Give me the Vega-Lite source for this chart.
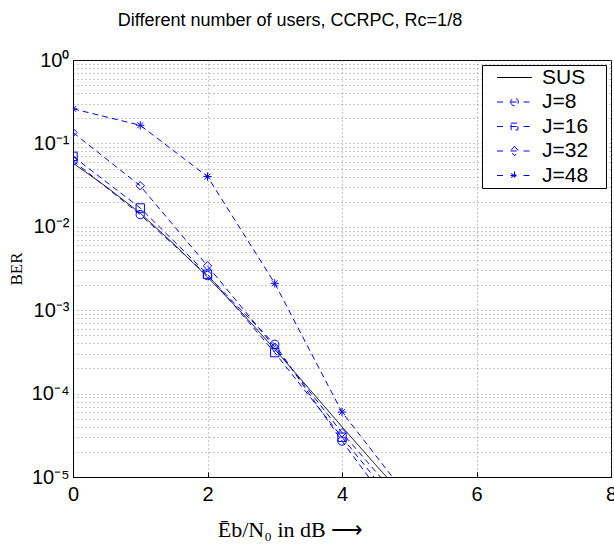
{
  "$schema": "https://vega.github.io/schema/vega-lite/v6.json",
  "width": 538,
  "height": 417,
  "autosize": {"type": "none"},
  "padding": {"left": 73, "top": 60, "right": 3, "bottom": 77},
  "background": "white",
  "title": {
    "text": "Different number of users, CCRPC, Rc=1/8",
    "font": "Liberation Sans",
    "fontSize": 18,
    "fontWeight": "normal",
    "color": "black",
    "anchor": "middle",
    "dx": -52,
    "offset": 20
  },
  "data": {
    "values": [
      {"snr": 0, "ber": 0.058, "series": "SUS"},
      {"snr": 0.5, "ber": 0.030, "series": "SUS"},
      {"snr": 1, "ber": 0.0146, "series": "SUS"},
      {"snr": 1.5, "ber": 0.0062, "series": "SUS"},
      {"snr": 2, "ber": 0.0025, "series": "SUS"},
      {"snr": 2.5, "ber": 0.00095, "series": "SUS"},
      {"snr": 3, "ber": 0.00034, "series": "SUS"},
      {"snr": 3.5, "ber": 0.000117, "series": "SUS"},
      {"snr": 4, "ber": 0.00004, "series": "SUS"},
      {"snr": 4.5, "ber": 0.000014, "series": "SUS"},
      {"snr": 5, "ber": 0.000005, "series": "SUS"},
      {"snr": 0, "ber": 0.062, "series": "J=8"},
      {"snr": 1, "ber": 0.0140, "series": "J=8"},
      {"snr": 2, "ber": 0.0026, "series": "J=8"},
      {"snr": 3, "ber": 0.00039, "series": "J=8"},
      {"snr": 4, "ber": 0.000027, "series": "J=8"},
      {"snr": 5, "ber": 0.0000022, "series": "J=8"},
      {"snr": 0, "ber": 0.070, "series": "J=16"},
      {"snr": 1, "ber": 0.0168, "series": "J=16"},
      {"snr": 2, "ber": 0.0027, "series": "J=16"},
      {"snr": 3, "ber": 0.00031, "series": "J=16"},
      {"snr": 4, "ber": 0.000030, "series": "J=16"},
      {"snr": 5, "ber": 0.000003, "series": "J=16"},
      {"snr": 0, "ber": 0.135, "series": "J=32"},
      {"snr": 1, "ber": 0.031, "series": "J=32"},
      {"snr": 2, "ber": 0.0034, "series": "J=32"},
      {"snr": 3, "ber": 0.00036, "series": "J=32"},
      {"snr": 4, "ber": 0.000034, "series": "J=32"},
      {"snr": 5, "ber": 0.000004, "series": "J=32"},
      {"snr": 0, "ber": 0.26, "series": "J=48"},
      {"snr": 1, "ber": 0.165, "series": "J=48"},
      {"snr": 2, "ber": 0.040, "series": "J=48"},
      {"snr": 3, "ber": 0.0021, "series": "J=48"},
      {"snr": 4, "ber": 0.00006, "series": "J=48"},
      {"snr": 5, "ber": 0.0000055, "series": "J=48"}
    ]
  },
  "encoding": {
    "x": {
      "field": "snr",
      "type": "quantitative",
      "scale": {"domain": [0, 8], "nice": false, "zero": false},
      "axis": {
        "values": [0, 2, 4, 6, 8],
        "title": "Ēb/N₀ in dB ⟶",
        "titleFont": "Liberation Serif",
        "titleFontSize": 22,
        "titleFontWeight": "normal",
        "titleColor": "black",
        "titleX": 217,
        "titleY": 42,
        "titleAlign": "center",
        "titleBaseline": "top",
        "labelFont": "Liberation Sans",
        "labelFontSize": 20,
        "labelColor": "black",
        "labelPadding": 12,
        "labelFlush": false,
        "labelOverlap": false,
        "domainColor": "black",
        "tickColor": "black",
        "tickSize": -5,
        "grid": true,
        "gridColor": "#666666",
        "gridDash": [1, 3],
        "gridWidth": 0.7
      }
    },
    "y": {
      "field": "ber",
      "type": "quantitative",
      "scale": {"type": "log", "domain": [0.00001, 1], "nice": false},
      "axis": {
        "values": [0.00001, 0.00002, 0.00003, 0.00004, 0.00005, 0.00006, 0.00007, 0.00008, 0.00009,
                   0.0001, 0.0002, 0.0003, 0.0004, 0.0005, 0.0006, 0.0007, 0.0008, 0.0009,
                   0.001, 0.002, 0.003, 0.004, 0.005, 0.006, 0.007, 0.008, 0.009,
                   0.01, 0.02, 0.03, 0.04, 0.05, 0.06, 0.07, 0.08, 0.09,
                   0.1, 0.2, 0.3, 0.4, 0.5, 0.6, 0.7, 0.8, 0.9, 1],
        "labelExpr": "abs(log(datum.value)/LN10 - round(log(datum.value)/LN10)) < 0.000001 ? ['10⁰','10⁻¹','10⁻²','10⁻³','10⁻⁴','10⁻⁵'][-round(log(datum.value)/LN10)] : ''",
        "title": "BER",
        "titleFont": "Liberation Serif",
        "titleFontSize": 17,
        "titleFontWeight": "normal",
        "titleColor": "black",
        "titlePadding": 6,
        "labelFont": "Liberation Sans",
        "labelFontSize": 20,
        "labelColor": "black",
        "labelPadding": 4,
        "labelOverlap": false,
        "labelFlush": false,
        "domainColor": "black",
        "ticks": false,
        "grid": true,
        "gridColor": "#666666",
        "gridDash": [1, 3],
        "gridWidth": 0.7
      }
    }
  },
  "layer": [
    {
      "mark": {"type": "line", "clip": true, "strokeWidth": 1},
      "encoding": {
        "color": {
          "field": "series",
          "type": "nominal",
          "sort": ["SUS", "J=8", "J=16", "J=32", "J=48"],
          "scale": {
            "domain": ["SUS", "J=8", "J=16", "J=32", "J=48"],
            "range": ["#000000", "#0000ff", "#0000ff", "#0000ff", "#0000ff"]
          },
          "legend": {
            "title": null,
            "orient": "top-right",
            "offset": 5,
            "padding": 2,
            "strokeColor": "black",
            "fillColor": "white",
            "labelFont": "Liberation Sans",
            "labelFontSize": 21,
            "labelColor": "black",
            "labelOffset": 17,
            "labelExpr": "datum.label + '\u2800'",
            "symbolOffset": 20,
            "symbolSize": 400,
            "rowPadding": 2.5,
            "encode": {
              "symbols": {
                "update": {
                  "shape": {"signal": "datum.value === 'SUS' ? 'M-1.75,0H1.75' : datum.value === 'J=8' ? 'M-1.75,0H-0.9M-0.4,0H0.4M0.9,0H1.75M-0.38,0A0.38,0.38 0 1,0 0.38,0A0.38,0.38 0 1,0 -0.38,0' : datum.value === 'J=16' ? 'M-1.75,0H-0.9M-0.4,0H0.4M0.9,0H1.75M-0.34,-0.34H0.34V0.34H-0.34Z' : datum.value === 'J=32' ? 'M-1.75,0H-0.9M-0.4,0H0.4M0.9,0H1.75M0,-0.48L0.4,0L0,0.48L-0.4,0Z' : 'M-1.75,0H-0.9M-0.4,0H0.4M0.9,0H1.75M0,-0.4V0.4M-0.35,-0.2L0.35,0.2M-0.35,0.2L0.35,-0.2'"},
                  "fill": {"value": "transparent"},
                  "strokeWidth": {"value": 1},
                  "strokeDash": {"value": []}
                }
              }
            }
          }
        },
        "strokeDash": {
          "field": "series",
          "type": "nominal",
          "scale": {
            "domain": ["SUS", "J=8", "J=16", "J=32", "J=48"],
            "range": [[1, 0], [6, 4], [6, 4], [6, 4], [6, 4]]
          },
          "legend": null
        }
      }
    },
    {
      "transform": [{"filter": "datum.series !== 'SUS'"}],
      "mark": {"type": "point", "filled": false, "clip": true, "color": "#0000ff", "strokeWidth": 1, "size": 70, "opacity": 1},
      "encoding": {
        "shape": {
          "field": "series",
          "type": "nominal",
          "scale": {
            "domain": ["J=8", "J=16", "J=32", "J=48"],
            "range": ["circle", "square", "diamond", "M0,-1V1M-1,0H1M-0.7,-0.7L0.7,0.7M-0.7,0.7L0.7,-0.7"]
          },
          "legend": null
        }
      }
    }
  ],
  "config": {
    "view": {"stroke": "black", "strokeWidth": 1}
  }
}
